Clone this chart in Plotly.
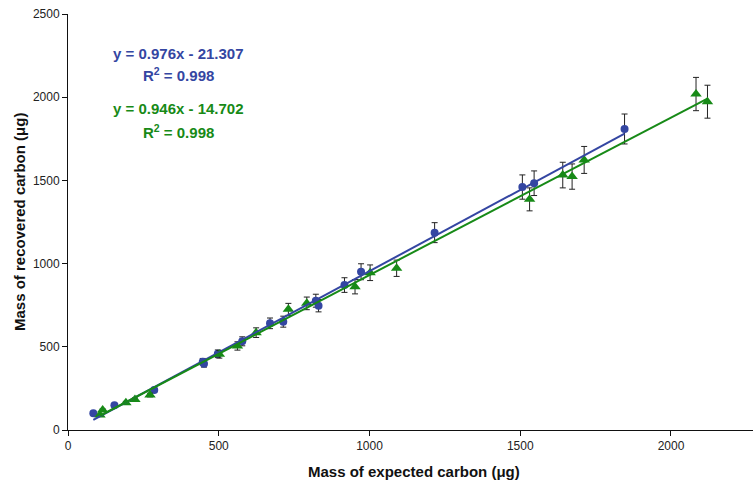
import plotly.graph_objects as go

# Data
blue_x = [84, 154, 286, 447, 451, 497, 578, 670, 714, 822, 831, 917, 972, 1216, 1507, 1546, 1846]
blue_y = [100, 148, 240, 410, 398, 458, 533, 641, 651, 777, 747, 871, 951, 1186, 1460, 1483, 1809]
blue_err = [6, 8, 12, 20, 20, 23, 27, 32, 33, 39, 37, 44, 48, 60, 73, 74, 90]

green_x = [106, 115, 192, 222, 272, 502, 562, 624, 731, 792, 952, 1002, 1090, 1531, 1641, 1672, 1712, 2083, 2121]
green_y = [90, 120, 164, 184, 210, 455, 505, 585, 725, 761, 861, 945, 972, 1386, 1532, 1523, 1623, 2019, 1973]
green_err = [5, 6, 8, 9, 11, 23, 25, 29, 36, 38, 43, 47, 49, 69, 77, 76, 81, 100, 99]

blue_fit = (0.976, -21.307)
green_fit = (0.946, -14.702)

x_ticks = [0, 500, 1000, 1500, 2000]
y_ticks = [0, 500, 1000, 1500, 2000, 2500]

BLUE = "#3446a2"
GREEN = "#178a17"

fig = go.Figure()

fig.add_trace(go.Scatter(
    x=blue_x, y=blue_y, mode="markers",
    marker=dict(symbol="circle", size=8, color=BLUE),
    error_y=dict(type="data", array=blue_err, color="#222222", thickness=1, width=3),
    showlegend=False))
fig.add_trace(go.Scatter(
    x=green_x, y=green_y, mode="markers",
    marker=dict(symbol="triangle-up", size=10, color=GREEN),
    error_y=dict(type="data", array=green_err, color="#222222", thickness=1, width=3),
    showlegend=False))

bx = [min(blue_x), max(blue_x)]
gx = [min(green_x), max(green_x)]
fig.add_trace(go.Scatter(x=bx, y=[blue_fit[0] * v + blue_fit[1] for v in bx], mode="lines",
                         line=dict(color=BLUE, width=2), showlegend=False))
fig.add_trace(go.Scatter(x=gx, y=[green_fit[0] * v + green_fit[1] for v in gx], mode="lines",
                         line=dict(color=GREEN, width=2), showlegend=False))

tickfont = dict(family="Liberation Sans Narrow, Arial Narrow, Liberation Sans, Arial", size=12, color="#222")
titlefont = dict(family="Liberation Sans Narrow, Arial Narrow, Liberation Sans, Arial", size=15, color="#111")

fig.update_xaxes(range=[0, 2272], tickvals=x_ticks, ticks="outside", ticklen=5, tickcolor="#111",
                 showline=True, linecolor="#111", linewidth=1, showgrid=False, zeroline=False,
                 tickfont=tickfont)
fig.update_yaxes(range=[0, 2500], tickvals=y_ticks, ticks="outside", ticklen=5, tickcolor="#111",
                 showline=True, linecolor="#111", linewidth=1, showgrid=False, zeroline=False,
                 tickfont=tickfont)

annfont = "Liberation Sans, Arial"
ann_x = (178 - 68) / 685
for text, ypx, col in [
    ("<b>y = 0.976x - 21.307</b>", 53, BLUE),
    ("<b>R<sup>2</sup> = 0.998</b>", 74, BLUE),
    ("<b>y = 0.946x - 14.702</b>", 109, GREEN),
    ("<b>R<sup>2</sup> = 0.998</b>", 131, GREEN),
]:
    fig.add_annotation(x=ann_x, y=(430 - ypx) / 416, xref="paper", yref="paper",
                       text=text, showarrow=False, xanchor="center", yanchor="middle",
                       font=dict(family=annfont, size=15, color=col))

fig.add_annotation(x=(414 - 68) / 685, y=-(471 - 430) / 416, xref="paper", yref="paper",
                   text="<b>Mass of expected carbon (μg)</b>", showarrow=False,
                   font=titlefont, xanchor="center", yanchor="middle")
fig.add_annotation(x=-(68 - 19) / 685, y=0.5, xref="paper", yref="paper",
                   text="<b>Mass of recovered carbon (μg)</b>", showarrow=False, textangle=-90,
                   font=titlefont, xanchor="center", yanchor="middle")

fig.update_layout(width=753, height=485, margin=dict(l=68, r=0, t=14, b=55),
                  plot_bgcolor="white", paper_bgcolor="white")

fig.write_html("out.html")
